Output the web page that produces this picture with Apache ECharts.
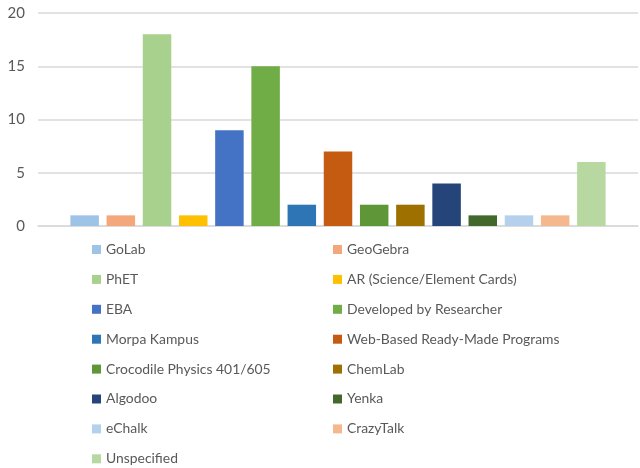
<!DOCTYPE html>
<html>
<head>
    <meta charset="utf-8">
    <title>Tools</title>
    <script src="https://cdn.jsdelivr.net/npm/echarts@6/dist/echarts.min.js"></script>
    <style>
        html, body { margin: 0; padding: 0; background: #fff; }
        #chart { width: 640px; height: 468px; }
    </style>
</head>
<body>
<div id="chart"></div>
<script type="text/javascript">
    // data
    var names = ['GoLab', 'GeoGebra', 'PhET', 'AR (Science/Element Cards)', 'EBA',
        'Developed by Researcher', 'Morpa Kampus', 'Web-Based Ready-Made Programs',
        'Crocodile Physics 401/605', 'ChemLab', 'Algodoo', 'Yenka', 'eChalk',
        'CrazyTalk', 'Unspecified'];
    var values = [1, 1, 18, 1, 9, 15, 2, 7, 2, 2, 4, 1, 1, 1, 6];
    var colors = ['#9dc3e6', '#f4a77a', '#a9d18e', '#ffc000', '#4472c4',
        '#70ad47', '#2e75b6', '#c55a11', '#5f9638', '#9e7000',
        '#25447a', '#43682b', '#b4d0ec', '#f5b78e', '#b7d9a1'];
    var yTicks = [0, 5, 10, 15, 20];

    var myChart = echarts.init(document.getElementById('chart'));

    var series = [];
    for (var i = 0; i < names.length; i++) {
        series.push({
            name: names[i],
            type: 'bar',
            data: [values[i]],
            barWidth: 28.5,
            barGap: '27%',
            itemStyle: { color: colors[i] }
        });
    }

    // two legend columns, like the original
    var legendText = { color: '#595959', fontSize: 13.9, fontFamily: 'Lato', lineHeight: 16 };
    var leftNames = names.filter(function (n, k) { return k % 2 === 0; });
    var rightNames = names.filter(function (n, k) { return k % 2 === 1; });

    function makeLegend(list, left) {
        return {
            data: list,
            orient: 'vertical',
            left: left,
            top: 241.5,
            height: 226,
            padding: 0,
            icon: 'rect',
            itemWidth: 9,
            itemHeight: 9,
            itemGap: 13.9,
            textStyle: legendText,
            selectedMode: false
        };
    }

    var option = {
        animation: false,
        color: colors,
        grid: { left: 38, right: 2, top: 13, bottom: 242 },
        xAxis: {
            type: 'category',
            data: [''],
            axisLine: { lineStyle: { color: '#d9d9d9', width: 1.5 } },
            axisTick: { show: false },
            axisLabel: { show: false }
        },
        yAxis: {
            type: 'value',
            min: yTicks[0],
            max: yTicks[yTicks.length - 1],
            interval: 5,
            axisLine: { show: false },
            axisTick: { show: false },
            axisLabel: { color: '#595959', fontSize: 15, fontFamily: 'Lato', margin: 13 },
            splitLine: { lineStyle: { color: '#d9d9d9', width: 1.5 } }
        },
        legend: [makeLegend(leftNames, 92), makeLegend(rightNames, 333)],
        series: series
    };

    myChart.setOption(option);
</script>
</body>
</html>
